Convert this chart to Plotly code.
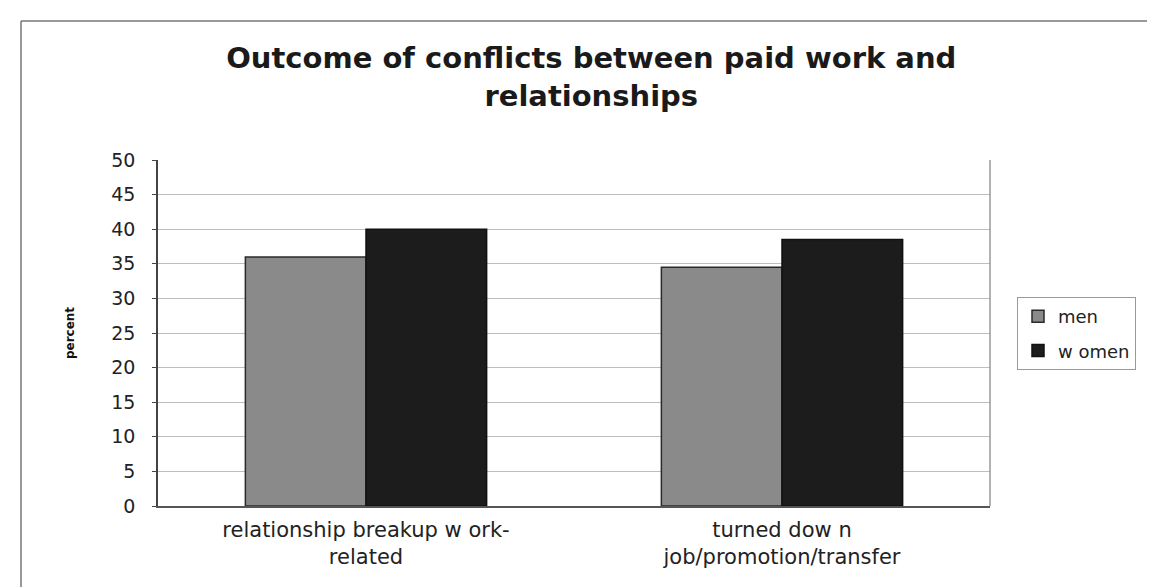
import plotly.graph_objects as go

categories = ["relationship breakup w ork-<br>related", "turned dow n<br>job/promotion/transfer"]
men = [36, 34.5]
women = [40, 38.5]
series_names = ["men", "w omen"]
y_ticks = [0, 5, 10, 15, 20, 25, 30, 35, 40, 45, 50]

fig = go.Figure()
fig.add_trace(go.Bar(name=series_names[0], x=categories, y=men, legendgroup="a",
                     marker=dict(color="#8a8a8a", line=dict(color="#2a2a2a", width=1.5))))
fig.add_trace(go.Bar(name=series_names[1], x=categories, y=women, legendgroup="b",
                     marker=dict(color="#1c1c1c", line=dict(color="#111111", width=1.5))))

wide = "DejaVu Sans, Verdana, sans-serif"
L, T, W, H = 150, 152, 832, 346
fig.update_layout(
    width=1155, height=587,
    margin=dict(l=L, r=1155 - L - W, t=T, b=587 - T - H),
    paper_bgcolor="white", plot_bgcolor="white",
    barmode="group", bargap=0.42, bargroupgap=0,
    font=dict(family=wide, color="#222"),
    title=dict(text="<b>Outcome of conflicts between paid work and<br>relationships</b>",
               x=0.505, xanchor="center", y=0.897, yanchor="top",
               font=dict(size=29, family=wide, color="#1a1a1a")),
    xaxis=dict(showgrid=False, showline=True, linecolor="#555", linewidth=1.5,
               ticks="", tickfont=dict(size=21, color="#222"), mirror=False,
               ticklabelstandoff=4),
    yaxis=dict(range=[0, 50], tickvals=y_ticks, showgrid=True, gridcolor="#bdbdbd", gridwidth=1,
               showline=True, linecolor="#444", linewidth=1.5, ticks="outside", ticklen=4,
               tickcolor="#444", tickfont=dict(size=19, color="#222"), ticklabelstandoff=13,
               title=dict(text="<b>percent</b>", font=dict(size=12, color="#111"), standoff=34)),
    legend=dict(x=(1017 - 8 - L) / W, y=(T + H - (297 - 8)) / H, xanchor="left", yanchor="top",
                bordercolor="#999", borderwidth=1, bgcolor="white",
                font=dict(size=18, color="#222"), traceorder="grouped",
                itemwidth=30, tracegroupgap=8),
    showlegend=True,
)

# plot-area right border
fig.add_shape(type="line", xref="paper", yref="paper", x0=1, x1=1, y0=0, y1=1,
              line=dict(color="#999", width=1.5))
# outer chart border (top & left)
bx = (21 - 8 - L) / W
by = (T + H - (21 - 8)) / H
fig.add_shape(type="line", xref="paper", yref="paper",
              x0=bx, x1=1.3, y0=by, y1=by, line=dict(color="#777", width=1.5))
fig.add_shape(type="line", xref="paper", yref="paper",
              x0=bx, x1=bx, y0=by, y1=-0.4, line=dict(color="#777", width=1.5))

fig.write_html("out.html")
